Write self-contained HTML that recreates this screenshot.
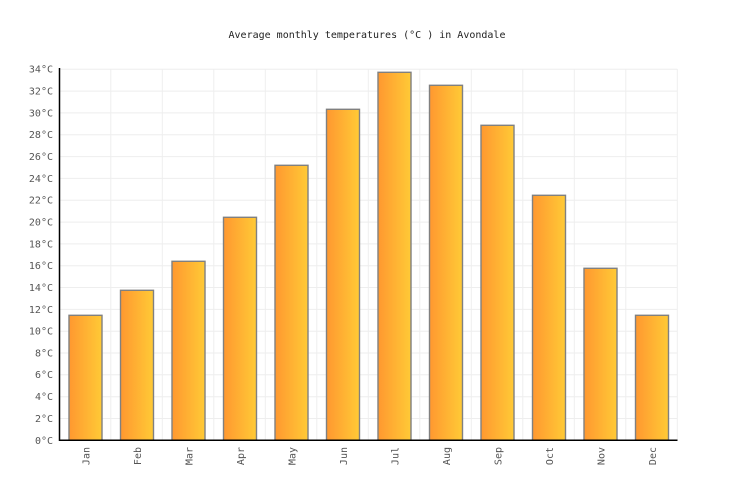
<!DOCTYPE html>
<html>
<head>
<meta charset="utf-8">
<style>
  html,body{margin:0;padding:0;background:#fff;}
  svg{display:block;}
  text{font-family:"DejaVu Sans Mono","Liberation Mono",monospace;font-size:10px;fill:#555;}
</style>
</head>
<body>
<svg width="736" height="500" viewBox="0 0 736 500" xmlns="http://www.w3.org/2000/svg">
  <defs>
    <linearGradient id="g" x1="0" y1="0" x2="1" y2="0">
      <stop offset="0" stop-color="#ff9830"/>
      <stop offset="1" stop-color="#ffca36"/>
    </linearGradient>
  </defs>
  <rect width="736" height="500" fill="#fff"/>
  <text x="367" y="38" text-anchor="middle" style="fill:#222">Average monthly temperatures (°C ) in Avondale</text>

  <!-- horizontal grid -->
  <g stroke="#eeeeee" stroke-width="1">
    <line x1="60" x2="677.3" y1="418.5" y2="418.5"/>
    <line x1="60" x2="677.3" y1="396.7" y2="396.7"/>
    <line x1="60" x2="677.3" y1="374.8" y2="374.8"/>
    <line x1="60" x2="677.3" y1="353.0" y2="353.0"/>
    <line x1="60" x2="677.3" y1="331.2" y2="331.2"/>
    <line x1="60" x2="677.3" y1="309.4" y2="309.4"/>
    <line x1="60" x2="677.3" y1="287.5" y2="287.5"/>
    <line x1="60" x2="677.3" y1="265.7" y2="265.7"/>
    <line x1="60" x2="677.3" y1="243.9" y2="243.9"/>
    <line x1="60" x2="677.3" y1="222.1" y2="222.1"/>
    <line x1="60" x2="677.3" y1="200.2" y2="200.2"/>
    <line x1="60" x2="677.3" y1="178.4" y2="178.4"/>
    <line x1="60" x2="677.3" y1="156.6" y2="156.6"/>
    <line x1="60" x2="677.3" y1="134.8" y2="134.8"/>
    <line x1="60" x2="677.3" y1="112.9" y2="112.9"/>
    <line x1="60" x2="677.3" y1="91.1" y2="91.1"/>
    <line x1="60" x2="677.3" y1="69.3" y2="69.3"/>
  </g>
  <!-- vertical grid -->
  <g stroke="#eeeeee" stroke-width="1">
    <line y1="69" y2="440" x1="110.8" x2="110.8"/>
    <line y1="69" y2="440" x1="162.3" x2="162.3"/>
    <line y1="69" y2="440" x1="213.8" x2="213.8"/>
    <line y1="69" y2="440" x1="265.3" x2="265.3"/>
    <line y1="69" y2="440" x1="316.8" x2="316.8"/>
    <line y1="69" y2="440" x1="368.3" x2="368.3"/>
    <line y1="69" y2="440" x1="419.8" x2="419.8"/>
    <line y1="69" y2="440" x1="471.3" x2="471.3"/>
    <line y1="69" y2="440" x1="522.8" x2="522.8"/>
    <line y1="69" y2="440" x1="574.3" x2="574.3"/>
    <line y1="69" y2="440" x1="625.8" x2="625.8"/>
    <line y1="69" y2="440" x1="677.3" x2="677.3"/>
  </g>

  <!-- bars -->
  <g fill="url(#g)" stroke="#808080" stroke-width="1.4">
    <rect x="69.0" y="315.3" width="33" height="125"/>
    <rect x="120.5" y="290.3" width="33" height="150"/>
    <rect x="172.0" y="261.3" width="33" height="179"/>
    <rect x="223.5" y="217.3" width="33" height="223"/>
    <rect x="275.0" y="165.3" width="33" height="275"/>
    <rect x="326.5" y="109.3" width="33" height="331"/>
    <rect x="378.0" y="72.3" width="33" height="368"/>
    <rect x="429.5" y="85.3" width="33" height="355"/>
    <rect x="481.0" y="125.3" width="33" height="315"/>
    <rect x="532.5" y="195.3" width="33" height="245"/>
    <rect x="584.0" y="268.3" width="33" height="172"/>
    <rect x="635.5" y="315.3" width="33" height="125"/>
  </g>

  <!-- axes -->
  <line x1="59.5" y1="68" x2="59.5" y2="441" stroke="#000" stroke-width="1.5"/>
  <line x1="59" y1="440.3" x2="677.5" y2="440.3" stroke="#000" stroke-width="1.5"/>

  <!-- y labels -->
  <g text-anchor="end">
    <text x="53" y="444">0°C</text>
    <text x="53" y="422">2°C</text>
    <text x="53" y="400">4°C</text>
    <text x="53" y="378">6°C</text>
    <text x="53" y="356.5">8°C</text>
    <text x="53" y="334.5">10°C</text>
    <text x="53" y="313">12°C</text>
    <text x="53" y="291">14°C</text>
    <text x="53" y="269">16°C</text>
    <text x="53" y="247.5">18°C</text>
    <text x="53" y="225.5">20°C</text>
    <text x="53" y="203.5">22°C</text>
    <text x="53" y="182">24°C</text>
    <text x="53" y="160">26°C</text>
    <text x="53" y="138">28°C</text>
    <text x="53" y="116.5">30°C</text>
    <text x="53" y="94.5">32°C</text>
    <text x="53" y="72.5">34°C</text>
  </g>

  <!-- x labels -->
  <g text-anchor="end">
    <text transform="translate(89.5,447) rotate(-90)">Jan</text>
    <text transform="translate(141,447) rotate(-90)">Feb</text>
    <text transform="translate(192.5,447) rotate(-90)">Mar</text>
    <text transform="translate(244,447) rotate(-90)">Apr</text>
    <text transform="translate(295.5,447) rotate(-90)">May</text>
    <text transform="translate(347,447) rotate(-90)">Jun</text>
    <text transform="translate(398.5,447) rotate(-90)">Jul</text>
    <text transform="translate(450,447) rotate(-90)">Aug</text>
    <text transform="translate(501.5,447) rotate(-90)">Sep</text>
    <text transform="translate(553,447) rotate(-90)">Oct</text>
    <text transform="translate(604.5,447) rotate(-90)">Nov</text>
    <text transform="translate(656,447) rotate(-90)">Dec</text>
  </g>
</svg>
</body>
</html>
